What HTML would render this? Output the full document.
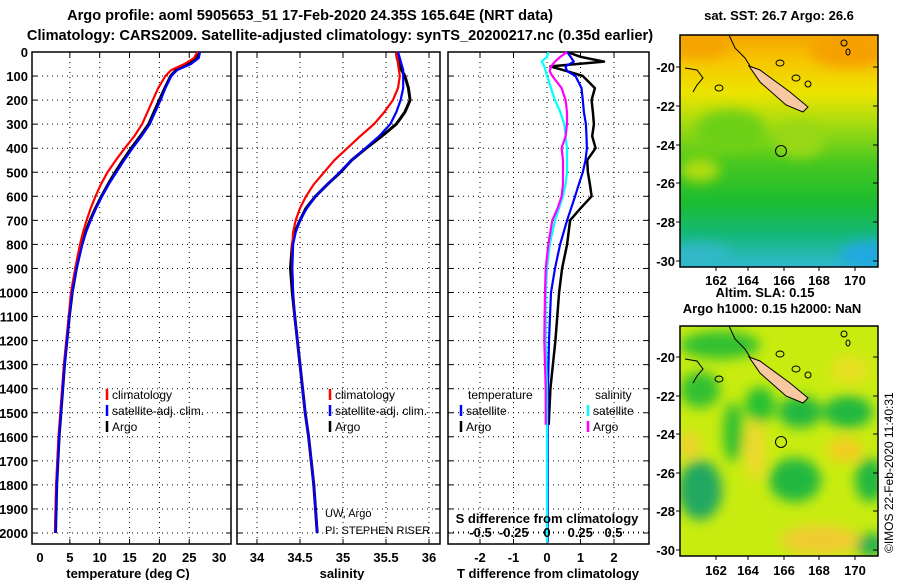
<!DOCTYPE html>
<html><head><meta charset="utf-8">
<style>
html,body{margin:0;padding:0;background:#fff;}
svg{display:block;font-family:"Liberation Sans",sans-serif;}
.b{font-weight:bold;font-size:13px;}
</style></head>
<body>
<svg id="chart" width="900" height="580" viewBox="0 0 900 580" xmlns="http://www.w3.org/2000/svg">
<defs>
<linearGradient id="sstg" x1="0" y1="0" x2="0" y2="1">
<stop offset="0" stop-color="#f5a400"/><stop offset="0.12" stop-color="#f6c800"/>
<stop offset="0.25" stop-color="#ece400"/><stop offset="0.38" stop-color="#a8dc10"/>
<stop offset="0.55" stop-color="#48c820"/><stop offset="0.72" stop-color="#1cbc30"/>
<stop offset="0.86" stop-color="#14b878"/><stop offset="1" stop-color="#30b8d0"/>
</linearGradient>
<filter id="blur"><feGaussianBlur stdDeviation="6"/></filter>
<clipPath id="clipTop"><rect x="680" y="35" width="198" height="232"/></clipPath>
<clipPath id="clipBot"><rect x="680" y="326" width="198" height="230"/></clipPath>
</defs>
<g>
<text class="b" x="310" y="20" text-anchor="middle" style="font-size:14.6px">Argo profile: aoml 5905653_51 17-Feb-2020 24.35S 165.64E (NRT data)</text>
<text class="b" x="340" y="40" text-anchor="middle" style="font-size:14.6px">Climatology: CARS2009. Satellite-adjusted climatology: synTS_20200217.nc (0.35d earlier)</text>
</g>
<g id="panels"></g>
<g clip-path="url(#clipTop)">
<rect x="680" y="35" width="198" height="232" fill="url(#sstg)"/>
<g filter="url(#blur)">
<ellipse cx="850" cy="50" rx="40" ry="18" fill="#f5a000"/>
<ellipse cx="700" cy="45" rx="30" ry="14" fill="#f5a400"/>
<ellipse cx="730" cy="130" rx="35" ry="20" fill="#6cd018"/>
<ellipse cx="800" cy="140" rx="25" ry="18" fill="#98d814"/>
<ellipse cx="700" cy="170" rx="20" ry="12" fill="#b0dc10"/>
<ellipse cx="700" cy="255" rx="30" ry="12" fill="#30b8c8"/>
<ellipse cx="870" cy="255" rx="30" ry="14" fill="#20a8e0"/>
</g>
</g>
<g clip-path="url(#clipBot)">
<rect x="680" y="326" width="198" height="230" fill="#c8ec10"/>
<g filter="url(#blur)">
<ellipse cx="720" cy="345" rx="40" ry="14" fill="#30c030"/>
<ellipse cx="700" cy="390" rx="20" ry="18" fill="#30c030"/>
<ellipse cx="760" cy="405" rx="15" ry="18" fill="#28c030"/>
<ellipse cx="800" cy="412" rx="22" ry="16" fill="#20b840"/>
<ellipse cx="848" cy="412" rx="25" ry="16" fill="#20b840"/>
<ellipse cx="733" cy="432" rx="10" ry="30" fill="#30c030"/>
<ellipse cx="700" cy="490" rx="22" ry="30" fill="#20a860"/>
<ellipse cx="795" cy="480" rx="26" ry="22" fill="#20b840"/>
<ellipse cx="870" cy="480" rx="15" ry="22" fill="#20b840"/>
<ellipse cx="870" cy="545" rx="15" ry="12" fill="#20b050"/>
<ellipse cx="845" cy="450" rx="18" ry="12" fill="#f4cc20"/>
<ellipse cx="755" cy="450" rx="10" ry="30" fill="#f0d830"/>
<ellipse cx="820" cy="540" rx="40" ry="15" fill="#f0cc30"/>
<ellipse cx="690" cy="445" rx="10" ry="14" fill="#f0d030"/>
<ellipse cx="850" cy="370" rx="20" ry="14" fill="#e8e020"/>
</g>
</g>
<g id="maps-overlay"></g>
<text class="b" x="779" y="20" text-anchor="middle">sat. SST: 26.7 Argo: 26.6</text>
<text class="b" x="765" y="297" text-anchor="middle">Altim. SLA: 0.15</text>
<text class="b" x="772" y="313" text-anchor="middle">Argo h1000: 0.15 h2000: NaN</text>
<text x="893" y="553" font-size="12" transform="rotate(-90 893 553)">©IMOS 22-Feb-2020 11:40:31</text>
</svg>
<script>
// ---- profile data ----
const depths = [0,25,50,75,100,150,200,250,300,350,400,450,500,550,600,650,700,750,800,900,1000,1100,1200,1300,1400,1500,1600,1700,1800,1900,2000];
const tempArgo = [26.6,26.3,24.8,22.8,21.9,20.9,20.0,19.1,18.2,16.8,15.3,13.9,12.6,11.4,10.3,9.3,8.4,7.6,7.0,6.1,5.4,4.9,4.5,4.1,3.8,3.5,3.2,3.0,2.8,2.7,2.6];
const tempSat = [26.8,26.6,25.3,23.0,22.0,21.0,20.2,19.3,18.4,17.0,15.5,14.1,12.8,11.5,10.4,9.4,8.5,7.7,7.1,6.1,5.4,4.9,4.5,4.1,3.8,3.5,3.2,3.0,2.8,2.7,2.6];
const tempClim = [26.4,25.8,24.2,22.0,21.0,19.8,18.9,18.0,17.1,15.8,14.2,12.7,11.3,10.2,9.3,8.5,7.8,7.2,6.7,5.9,5.2,4.8,4.4,4.0,3.7,3.4,3.1,2.9,2.7,2.6,2.5];
const salArgo = [35.62,35.63,35.65,35.68,35.72,35.76,35.78,35.72,35.62,35.45,35.27,35.1,34.97,34.82,34.68,34.57,34.5,34.44,34.41,34.39,34.41,34.44,34.47,34.5,34.53,34.56,34.6,34.63,34.66,34.68,34.7];
const salSat = [35.64,35.66,35.68,35.7,35.7,35.7,35.67,35.62,35.55,35.42,35.26,35.1,34.96,34.82,34.68,34.58,34.5,34.45,34.42,34.41,34.42,34.44,34.47,34.5,34.53,34.56,34.6,34.63,34.66,34.68,34.7];
const salClim = [35.62,35.63,35.64,35.65,35.66,35.64,35.58,35.48,35.36,35.2,35.05,34.9,34.78,34.66,34.57,34.5,34.45,34.42,34.41,34.41,34.42,34.44,34.47,34.5,34.53,34.56,34.6,34.63,34.66,34.68,34.7];
// ---- difference data ----
const diffDepths = [0,20,40,60,80,100,150,200,250,300,350,400,450,500,550,600,650,700,800,900,1000,1200,1400,1550,1800,2040];
const dTempArgo = [0.6,1.0,1.7,0.1,0.6,1.07,1.43,1.33,1.37,1.4,1.35,1.45,1.2,1.22,1.28,1.33,1.0,0.69,0.6,0.45,0.36,0.25,0.1,0.05,null,null];
const dTempSat = [0.6,0.7,0.8,0.55,0.6,0.85,1.03,1.07,1.1,1.16,1.18,1.19,1.15,1.07,0.95,0.84,0.72,0.6,0.39,0.24,0.12,0.06,0.03,0.02,0.02,0.02];
const dSalSat = [0.01,0,-0.04,-0.02,-0.01,0,0.03,0.06,0.1,0.13,0.14,0.15,0.15,0.15,0.14,0.12,0.09,0.06,0.02,0,-0.01,-0.01,0,0,0,0];
const dSalArgo = [0.15,0.1,0.06,0.03,0.02,0.04,0.11,0.14,0.15,0.15,0.14,0.11,0.12,0.12,0.12,0.11,0.08,0.04,0.01,-0.01,-0.015,-0.02,-0.01,-0.01,null,null];
// ---- ticks ----
const depthTicks = [0,100,200,300,400,500,600,700,800,900,1000,1100,1200,1300,1400,1500,1600,1700,1800,1900,2000];
const tempTicks = [0,5,10,15,20,25,30];
const salTicks = [34,34.5,35,35.5,36];
const salTickLabels = ["34","34.5","35","35.5","36"];
const dTTicks = [-2,-1,0,1,2];
const dSTicks = [-0.5,-0.25,0,0.25,0.5];
const dSTickLabels = ["-0.5","-0.25","0","0.25","0.5"];
const latTicks = [-20,-22,-24,-26,-28,-30];
const lonTicks = [162,164,166,168,170];

const NS = "http://www.w3.org/2000/svg";
const root = document.getElementById('panels');
function mk(tag, attrs, parent, txt){
  const e = document.createElementNS(NS, tag);
  for (const k in attrs) e.setAttribute(k, attrs[k]);
  if (txt !== undefined) e.textContent = txt;
  (parent || root).appendChild(e);
  return e;
}
const TOP = 52, BOT = 544;
const yD = d => TOP + d * 0.2405;
const xT = v => 40 + v * 5.97;
const xS = v => 257 + (v - 34) * 86;
const xDT = v => 547 + v * 33.5;
const xDS = v => 547 + v * 133;

function frame(x0, x1, name){
  const g = mk('g', {});
  
  
  mk('rect', {x:x0, y:TOP, width:x1-x0, height:BOT-TOP, fill:'#fff', stroke:'#000', 'stroke-width':1.5}, g);
  depthTicks.forEach(d => {
    if (d === 0) return;
    mk('line', {x1:x0, x2:x1, y1:yD(d), y2:yD(d), stroke:'#000', 'stroke-width':1, 'stroke-dasharray':'1,4'}, g);
    mk('line', {x1:x0, x2:x0+5, y1:yD(d), y2:yD(d), stroke:'#000'}, g);
    mk('line', {x1:x1-5, x2:x1, y1:yD(d), y2:yD(d), stroke:'#000'}, g);
  });
  return g;
}
function vgrid(g, ticks, fx){
  ticks.forEach(t => {
    const x = fx(t);
    mk('line', {x1:x, x2:x, y1:TOP, y2:BOT, stroke:'#000', 'stroke-dasharray':'1,4'}, g);
    mk('line', {x1:x, x2:x, y1:BOT-5, y2:BOT, stroke:'#000'}, g);
    mk('line', {x1:x, x2:x, y1:TOP, y2:TOP+5, stroke:'#000'}, g);
  });
}
function series(g, ys, xs, fx, color, name, w){
  let d = '', pen = false;
  ys.forEach((dep, i) => {
    const v = xs[i];
    if (v === null || v === undefined) { pen = false; return; }
    d += (pen ? 'L' : 'M') + fx(v).toFixed(1) + ',' + yD(dep).toFixed(1);
    pen = true;
  });
  const p = mk('path', {d:d, fill:'none', stroke:color, 'stroke-width':w||2.2, 'stroke-linejoin':'round'}, g);
  
  
}
function legend(g, x, y, color, label){
  mk('line', {x1:x, x2:x, y1:y-10, y2:y+1, stroke:color, 'stroke-width':2.5}, g);
  const t = mk('text', {x:x+5, y:y, 'font-size':12}, g, label);
  
  
}

const yl = mk('g', {});


depthTicks.forEach(d => mk('text', {x:28, y:yD(d)+5, 'text-anchor':'end', class:'b'}, yl, String(d)));

const g1 = frame(32, 231, 'temperature-panel');
vgrid(g1, tempTicks.slice(1, -1), xT);
series(g1, depths, tempArgo, xT, '#000', 'argo-temperature', 3);
series(g1, depths, tempClim, xT, '#f00', 'climatology-temperature');
series(g1, depths, tempSat, xT, '#00f', 'satellite-temperature');
tempTicks.forEach(t => mk('text', {x:xT(t), y:562, 'text-anchor':'middle', class:'b'}, g1, String(t)));
mk('text', {x:128, y:578, 'text-anchor':'middle', class:'b'}, g1, 'temperature (deg C)');
legend(g1, 107, 399, '#f00', 'climatology');
legend(g1, 107, 415, '#00f', 'satellite-adj. clim.');
legend(g1, 107, 431, '#000', 'Argo');

const g2 = frame(237, 440, 'salinity-panel');
vgrid(g2, salTicks, xS);
series(g2, depths, salArgo, xS, '#000', 'argo-salinity', 3);
series(g2, depths, salClim, xS, '#f00', 'climatology-salinity');
series(g2, depths, salSat, xS, '#00f', 'satellite-salinity');
salTicks.forEach((t, i) => mk('text', {x:xS(t), y:562, 'text-anchor':'middle', class:'b'}, g2, salTickLabels[i]));
mk('text', {x:342, y:578, 'text-anchor':'middle', class:'b'}, g2, 'salinity');
legend(g2, 330, 399, '#f00', 'climatology');
legend(g2, 330, 415, '#00f', 'satellite-adj. clim.');
legend(g2, 330, 431, '#000', 'Argo');
mk('text', {x:325, y:517, 'font-size':11}, g2, 'UW, Argo');
mk('text', {x:325, y:534, 'font-size':11}, g2, 'PI: STEPHEN RISER');

const g3 = frame(448, 649, 'difference-panel');
vgrid(g3, dTTicks, xDT);
series(g3, diffDepths, dTempArgo, xDT, '#000', 'argo-temperature-difference', 2.5);
series(g3, diffDepths, dTempSat, xDT, '#00f', 'satellite-temperature-difference');
series(g3, diffDepths, dSalSat, xDS, '#0ff', 'satellite-salinity-difference');
series(g3, diffDepths, dSalArgo, xDS, '#f0f', 'argo-salinity-difference');
dTTicks.forEach(t => mk('text', {x:xDT(t), y:562, 'text-anchor':'middle', class:'b'}, g3, String(t)));
mk('text', {x:548, y:578, 'text-anchor':'middle', class:'b'}, g3, 'T difference from climatology');
mk('line', {x1:448, x2:649, y1:532, y2:532, stroke:'#000', 'stroke-dasharray':'1,4'}, g3);
dSTicks.forEach((t, i) => mk('text', {x:xDS(t), y:537, 'text-anchor':'middle', class:'b'}, g3, dSTickLabels[i]));
mk('text', {x:547, y:523, 'text-anchor':'middle', class:'b'}, g3, 'S difference from climatology');
mk('text', {x:468, y:399, 'font-size':12}, g3, 'temperature');
mk('text', {x:595, y:399, 'font-size':12}, g3, 'salinity');
legend(g3, 461, 415, '#00f', 'satellite');
legend(g3, 461, 431, '#000', 'Argo');
legend(g3, 588, 415, '#0ff', 'satellite');
legend(g3, 588, 431, '#f0f', 'Argo');

const mo = document.getElementById('maps-overlay');
function mapOverlay(off, name){
  const g = mk('g', {}, mo);
  
  
  const h = off === 0 ? 232 : 230;
  const top = 35 + off;
  mk('polygon', {points:`749,${66+off} 760,${70+off} 790,${92+off} 808,${107+off} 803,${112+off} 786,${105+off} 760,${82+off}`, fill:'#f8c8a0', stroke:'#000', 'stroke-width':1}, g);
  mk('path', {d:`M729,${35+off} L735,${48+off} L745,${58+off} L750,${66+off}`, fill:'none', stroke:'#000', 'stroke-width':1}, g);
  mk('path', {d:`M685,${68+off} L697,${70+off} L703,${78+off} L697,${85+off} L693,${92+off}`, fill:'none', stroke:'#000', 'stroke-width':1}, g);
  mk('ellipse', {cx:719, cy:88+off, rx:4, ry:3, fill:'none', stroke:'#000'}, g);
  mk('ellipse', {cx:780, cy:63+off, rx:4, ry:3, fill:'none', stroke:'#000'}, g);
  mk('ellipse', {cx:796, cy:78+off, rx:4, ry:3, fill:'none', stroke:'#000'}, g);
  mk('ellipse', {cx:808, cy:84+off, rx:3, ry:3, fill:'none', stroke:'#000'}, g);
  mk('ellipse', {cx:844, cy:43+off, rx:3, ry:3, fill:'none', stroke:'#000'}, g);
  mk('ellipse', {cx:848, cy:52+off, rx:2, ry:3, fill:'none', stroke:'#000'}, g);
  mk('circle', {cx:781, cy:151+off, r:5.5, fill:'none', stroke:'#000', 'stroke-width':1}, g);
  mk('rect', {x:680, y:top, width:198, height:h, fill:'none', stroke:'#000', 'stroke-width':1.5}, g);
  const latY = off === 0 ? [67,106,145,183,222,261] : [357,396,434,473,511,550];
  latTicks.forEach((l, i) => {
    mk('line', {x1:680, x2:676, y1:latY[i], y2:latY[i], stroke:'#000'}, g);
    mk('line', {x1:878, x2:873, y1:latY[i], y2:latY[i], stroke:'#000'}, g);
    mk('text', {x:675, y:latY[i]+5, 'text-anchor':'end', class:'b'}, g, String(l));
  });
  const lonX = [716, 748, 784, 819, 855];
  lonTicks.forEach((l, i) => {
    mk('line', {x1:lonX[i], x2:lonX[i], y1:top+h, y2:top+h+4, stroke:'#000'}, g);
    mk('text', {x:lonX[i], y:off === 0 ? 285 : 575, 'text-anchor':'middle', class:'b'}, g, String(l));
  });
}
mapOverlay(0, 'sst-map-overlay');
mapOverlay(291, 'sla-map-overlay');
</script>
</body></html>
